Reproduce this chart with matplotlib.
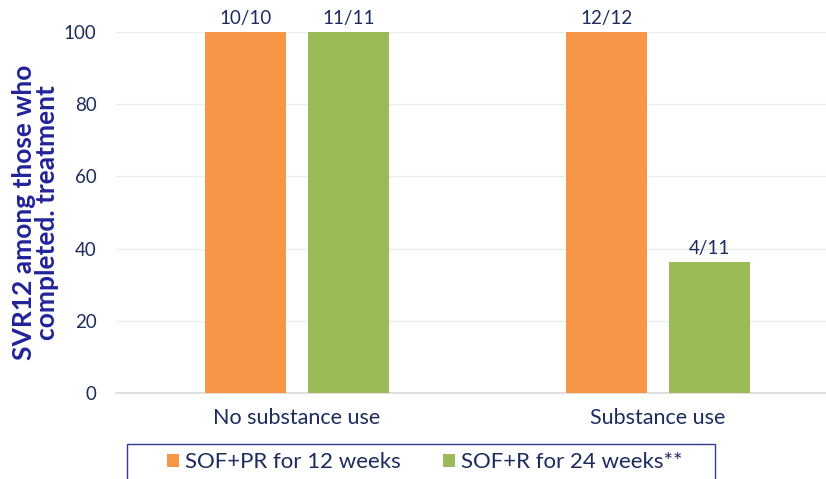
import matplotlib.pyplot as plt
from matplotlib.patches import Rectangle
import numpy as np

# data
groups = ['No substance use', 'Substance use']
sof_pr = [100, 100]
sof_r = [100, 36.4]
labels_pr = ['10/10', '12/12']
labels_r = ['11/11', '4/11']
series_names = ['SOF+PR for 12 weeks', 'SOF+R for 24 weeks**']

navy = '#1D2B5E'
orange = '#F79646'
green = '#9BBB59'

plt.rcParams['font.family'] = ['Lato', 'DejaVu Sans']

fig = plt.figure(figsize=(8.26, 4.79), dpi=100)
ax = fig.add_axes([116 / 826, 1 - 393 / 479, 1 - 116 / 826, (393 - 32) / 479])

x = np.arange(len(groups))
w = 0.224
off = 0.143
b1 = ax.bar(x - off, sof_pr, w, color=orange, label=series_names[0], zorder=3)
b2 = ax.bar(x + off, sof_r, w, color=green, label=series_names[1], zorder=3)

for bars, labs in [(b1, labels_pr), (b2, labels_r)]:
    for b, t in zip(bars, labs):
        ax.text(b.get_x() + b.get_width() / 2, b.get_height() + 1.3, t,
                ha='center', va='bottom', fontsize=13.5, color=navy)

ax.set_xlim(-0.501, 1.465)
ax.set_ylim(0, 100)
ax.set_yticks([0, 20, 40, 60, 80, 100])
ax.yaxis.grid(True, color='#EBEBEB', linewidth=1, zorder=0)
ax.set_xticks(x)
ax.set_xticklabels(groups)
ax.tick_params(axis='both', length=0, labelcolor=navy)
ax.tick_params(axis='x', pad=11, labelsize=15.5)
ax.tick_params(axis='y', pad=14, labelsize=13.5)
for s in ['top', 'right', 'left']:
    ax.spines[s].set_visible(False)
ax.spines['bottom'].set_color('#D9D9D9')
ax.spines['bottom'].set_linewidth(1.2)

ax.set_ylabel('SVR12 among those who\ncompleted. treatment', fontsize=19,
              fontweight='bold', color='#22229A', linespacing=0.95)
ax.yaxis.set_label_coords(-0.08, 0.5)

# legend frame, cut by the bottom edge like in the original
fig.patches.append(Rectangle((127 / 826, -0.02), (715 - 127) / 826, 0.02 + (479 - 444) / 479,
                             transform=fig.transFigure, fill=False,
                             edgecolor='#2E3C96', linewidth=1.0))
fig.legend(loc='center left', bbox_to_anchor=(167 / 826, 1 - 462.5 / 479),
           ncol=2, frameon=False, fontsize=16, borderpad=0, borderaxespad=0,
           handlelength=0.55, handleheight=0.55, handletextpad=0.25,
           columnspacing=1.9, labelcolor=navy)

fig.savefig('out.png', dpi=100)
